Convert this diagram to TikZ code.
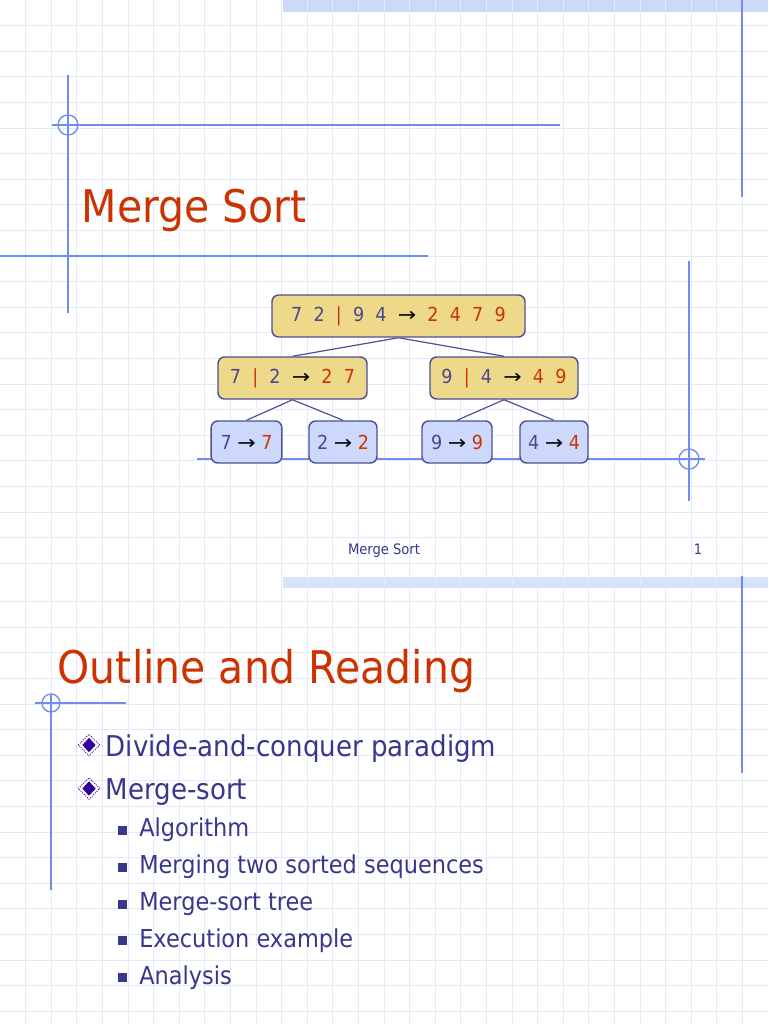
\documentclass[tikz,border=0pt]{standalone}
\usepackage{fontspec}
\setmainfont[FakeStretch=0.91]{DejaVu Sans}
\newfontfamily\folgenschrift[FakeStretch=0.91,WordSpace=2]{DejaVu Sans}
\usepackage{xcolor}
\usepackage{tikz, graphicx}
\definecolor{titelrot}{RGB}{204,51,0}
\definecolor{zahlblau}{RGB}{72,72,140}
\definecolor{textblau}{RGB}{55,55,140}
\definecolor{rahmenblau}{RGB}{80,80,150}
\definecolor{kastengelb}{RGB}{238,217,138}
\definecolor{blattblau}{RGB}{205,217,252}
\definecolor{linienblau}{RGB}{112,140,240}
\definecolor{gitterblau}{RGB}{228,234,252}
\definecolor{balkenblau}{RGB}{205,217,248}
\definecolor{rautenlila}{RGB}{51,0,153}
\usetikzlibrary{shapes}

\newcommand{\zahl}[1]{\textcolor{zahlblau}{#1}}
\newcommand{\erg}[1]{\textcolor{titelrot}{#1}}
\newcommand{\teil}{\textcolor{titelrot}{|}}
\newcommand{\pfeil}{\scalebox{1.25}[1]{→}}

\begin{document}
\begin{tikzpicture}[x=0.75pt, y=-0.75pt, >=latex,
		linie/.style={color=linienblau, line width=1pt},
		kasten/.style={draw=rahmenblau, line width=1.1pt, rounded corners=5pt, fill=kastengelb,
			minimum height=31.5pt, inner sep=0pt, font=\folgenschrift\fontsize{14.5}{17}\selectfont},
		blatt/.style={kasten, fill=blattblau, font=\fontsize{14.5}{17}\selectfont},
		kante/.style={draw=rahmenblau, line width=0.9pt},
		titel/.style={titelrot, inner sep=0pt, anchor=base west, font=\fontsize{33.75}{40}\selectfont},
		fuss/.style={textblau, inner sep=0pt, anchor=base, font=\fontsize{10.8}{13}\selectfont},
		punkt/.style={textblau, inner sep=0pt, anchor=base west, font=\fontsize{21.5}{26}\selectfont},
		unterpunkt/.style={textblau, inner sep=0pt, anchor=base west, font=\fontsize{18.5}{22}\selectfont},
		quadrat/.style={fill=textblau, minimum size=6.75pt, inner sep=0pt},
		raute/.style={diamond, draw=rautenlila, densely dotted, line width=0.7pt, minimum size=16.5pt, inner sep=0pt,
			path picture={\fill[rautenlila] (path picture bounding box.center) +(0pt,5.4pt) -- +(5pt,0pt) -- +(0pt,-5.4pt) -- +(-5pt,0pt) -- cycle;}}]
	\useasboundingbox (0,0) rectangle (768,1024);
	\fill[white] (0,0) rectangle (768,1024);
	% Balken oben
	\fill[balkenblau] (283,0) rectangle (768,12.5);
	\fill[balkenblau!80] (283,576.5) rectangle (768,588);
	% Raster zeichnen
	\foreach \x in {1,...,29} \draw[gitterblau, line width=0.6pt] (\x*25.6,0) -- (\x*25.6,1024);
	\foreach \y in {1,...,22} \draw[gitterblau, line width=0.6pt] (0,\y*25.6) -- (768,\y*25.6);
	\foreach \y in {1,...,17} \draw[gitterblau, line width=0.6pt] (0,576+\y*25.6) -- (768,576+\y*25.6);
	% Linien Folie 1
	\draw[linie] (68,75) -- (68,313);
	\draw[linie] (52,125) -- (560,125);
	\draw[linie] (68,125) circle (7.5pt);
	\draw[linie] (0,256) -- (428,256);
	\draw[linie] (742,0) -- (742,197);
	\draw[linie] (689,261) -- (689,501);
	\draw[linie] (197,459) -- (705,459);
	\draw[linie] (689,459) circle (7.5pt);
	% Linien Folie 2
	\draw[linie] (742,576) -- (742,773);
	\draw[linie] (35,703) -- (126,703);
	\draw[linie] (51,695) -- (51,890);
	\draw[linie] (51,703) circle (6.75pt);
	% Folie 1
	\node[titel] (titel1) at (81.5,222.7) {Merge Sort};
	\node[kasten, minimum width=189.75pt] (wurzel) at (398.5,316) {\zahl{7 2} \teil{} \zahl{9 4} \pfeil{} \erg{2 4 7 9}};
	\node[kasten, minimum width=111.75pt] (links) at (292.5,378) {\zahl{7} \teil{} \zahl{2} \pfeil{} \erg{2 7}};
	\node[kasten, minimum width=111pt] (rechts) at (504,378) {\zahl{9} \teil{} \zahl{4} \pfeil{} \erg{4 9}};
	\node[blatt, minimum width=53pt] (b1) at (246.5,442) {\zahl{7} \pfeil{} \erg{7}};
	\node[blatt, minimum width=51pt] (b2) at (343,442) {\zahl{2} \pfeil{} \erg{2}};
	\node[blatt, minimum width=52.5pt] (b3) at (457,442) {\zahl{9} \pfeil{} \erg{9}};
	\node[blatt, minimum width=51pt] (b4) at (554,442) {\zahl{4} \pfeil{} \erg{4}};
	\draw[kante] (wurzel.south) -- (links.north);
	\draw[kante] (wurzel.south) -- (rechts.north);
	\draw[kante] (links.south) -- (b1.north);
	\draw[kante] (links.south) -- (b2.north);
	\draw[kante] (rechts.south) -- (b3.north);
	\draw[kante] (rechts.south) -- (b4.north);
	\node[fuss] (fuss1) at (384,554) {Merge Sort};
	\node[fuss] (seite1) at (698,554) {1};
	% Folie 2
	\node[titel] (titel2) at (57.5,683) {Outline and Reading};
	\node[raute] (r1) at (89,745) {};
	\node[punkt] (p1) at (105.5,756) {Divide-and-conquer paradigm};
	\node[raute] (r2) at (89,788.5) {};
	\node[punkt] (p2) at (105.5,799) {Merge-sort};
	\foreach \t [count=\i] in {Algorithm, Merging two sorted sequences, Merge-sort tree, Execution example, Analysis} {
		\node[quadrat] (q\i) at (122.5,{830.5+36.8*(\i-1)}) {};
		\node[unterpunkt] (u\i) at (139,{836.8+36.8*(\i-1)}) {\t};
	}
\end{tikzpicture}
\end{document}
